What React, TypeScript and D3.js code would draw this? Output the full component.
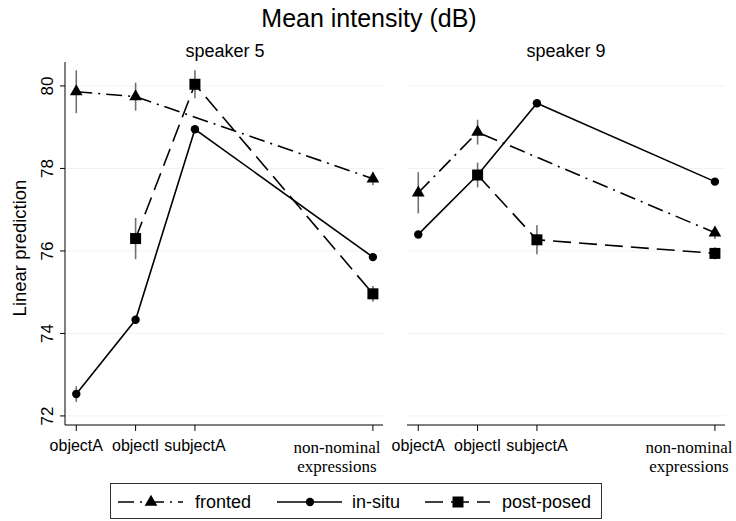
import React from "react";
import * as d3 from "d3";

const categories = ["objectA", "objectI", "subjectA", "non-nominal expressions"];
const catPos = [1, 2, 3, 6];
const seriesNames = ["fronted", "in-situ", "post-posed"];

// speaker 5
const s5Fronted: (number | null)[] = [79.86, 79.74, null, 77.75];
const s5FrontedErr = [0.52, 0.34, 0, 0.16];
const s5InSitu: (number | null)[] = [72.53, 74.33, 78.95, 75.85];
const s5InSituErr = [0.19, 0.1, 0.08, 0.06];
const s5Post: (number | null)[] = [null, 76.3, 80.04, 74.96];
const s5PostErr = [0, 0.5, 0.34, 0.19];

// speaker 9
const s9Fronted: (number | null)[] = [77.41, 78.88, null, 76.44];
const s9FrontedErr = [0.5, 0.3, 0, 0.15];
const s9InSitu: (number | null)[] = [76.4, 77.84, 79.58, 77.68];
const s9InSituErr = [0.08, 0.08, 0.06, 0.06];
const s9Post: (number | null)[] = [null, 77.84, 76.27, 75.94];
const s9PostErr = [0, 0.3, 0.35, 0.15];

const yTicks = [72, 74, 76, 78, 80];
const panelTitles = ["speaker 5", "speaker 9"];

const dashes = ["16,6,2,6", "", "18,8"];
const markers = ["triangle", "circle", "square"];

function Marker({ type, x, y }: { type: string; x: number; y: number }) {
  if (type === "triangle") {
    const s = d3.symbol().type(d3.symbolTriangle).size(70)();
    return <path d={s as string} transform={`translate(${x},${y})`} fill="#000" />;
  }
  if (type === "circle") return <circle cx={x} cy={y} r={4.2} fill="#000" />;
  return <rect x={x - 5.5} y={y - 5.5} width={11} height={11} fill="#000" />;
}

export default function App() {
  const W = 736, H = 521;
  const y = d3.scaleLinear().domain([71.78, 80.58]).range([425, 62]);
  const panels = [
    { x0: 65, x1: 383, data: [s5Fronted, s5InSitu, s5Post], err: [s5FrontedErr, s5InSituErr, s5PostErr], title: panelTitles[0], tx: 225, nnx: 337 },
    { x0: 407, x1: 725, data: [s9Fronted, s9InSitu, s9Post], err: [s9FrontedErr, s9InSituErr, s9PostErr], title: panelTitles[1], tx: 566, nnx: 689 },
  ];
  const font = "Arial, 'Liberation Sans', sans-serif";
  return (
    <svg width={W} height={H} style={{ position: "absolute", left: 0, top: 0 }} fontFamily={font}>
      <rect width={W} height={H} fill="#fff" />
      <text x={369} y={27} textAnchor="middle" fontSize={25}>Mean intensity (dB)</text>
      <text transform={`translate(26,248) rotate(-90)`} textAnchor="middle" fontSize={18.5}>Linear prediction</text>
      {panels.map((p, pi) => {
        const x = d3.scaleLinear().domain([0.81, 6.17]).range([p.x0, p.x1]);
        return (
          <g key={pi}>
            <text x={p.tx} y={57} textAnchor="middle" fontSize={18}>{p.title}</text>
            {yTicks.map((t) => (
              <line key={t} x1={p.x0} x2={p.x1} y1={y(t)} y2={y(t)} stroke="#eef3f6" strokeWidth={1} />
            ))}
            <line x1={p.x0} x2={p.x1} y1={425} y2={425} stroke="#000" strokeWidth={1} />
            {catPos.map((c, i) => (
              <g key={i}>
                <line x1={x(c)} x2={x(c)} y1={425} y2={431} stroke="#000" />
                {i < 3 ? (
                  <text x={x(c)} y={451} textAnchor="middle" fontSize={16}>{categories[i]}</text>
                ) : (
                  <text textAnchor="middle" fontSize={17} fontFamily="'Liberation Serif', 'Times New Roman', serif">
                    <tspan x={p.nnx} y={453}>non-nominal</tspan>
                    <tspan x={p.nnx} y={472}>expressions</tspan>
                  </text>
                )}
              </g>
            ))}
            {pi === 0 && (
              <g>
                <line x1={p.x0} x2={p.x0} y1={62} y2={425} stroke="#000" />
                {yTicks.map((t) => (
                  <g key={t}>
                    <line x1={p.x0 - 5} x2={p.x0} y1={y(t)} y2={y(t)} stroke="#000" />
                    <text transform={`translate(53,${y(t)}) rotate(-90)`} textAnchor="middle" fontSize={17}>{t}</text>
                  </g>
                ))}
              </g>
            )}
            {p.data.map((vals, si) => {
              const pts = vals.map((v, i) => ({ x: x(catPos[i]), v, e: p.err[si][i] }));
              const defined = pts.filter((d) => d.v !== null);
              const line = d3.line<{ x: number; v: number | null }>().x((d) => d.x).y((d) => y(d.v as number));
              return (
                <g key={si}>
                  {defined.map((d, i) => d.e > 0 && (
                    <line key={i} x1={d.x} x2={d.x} y1={y((d.v as number) + d.e)} y2={y((d.v as number) - d.e)} stroke="#707070" strokeWidth={1.6} />
                  ))}
                  <path d={line(defined) as string} fill="none" stroke="#000" strokeWidth={1.6} strokeDasharray={dashes[si]} />
                  {defined.map((d, i) => <Marker key={i} type={markers[si]} x={d.x} y={y(d.v as number)} />)}
                </g>
              );
            })}
          </g>
        );
      })}
      <rect x={110.5} y={483.5} width={491} height={35} fill="none" stroke="#333" strokeWidth={1} />
      {seriesNames.map((n, i) => {
        const lx = [118, 277, 425][i];
        const tx = [195, 352, 502][i];
        return (
          <g key={n}>
            <line x1={lx} x2={lx + 65} y1={502} y2={502} stroke="#000" strokeWidth={1.6} strokeDasharray={dashes[i]} />
            <Marker type={markers[i]} x={lx + 33} y={502} />
            <text x={tx} y={508} fontSize={18}>{n}</text>
          </g>
        );
      })}
    </svg>
  );
}
